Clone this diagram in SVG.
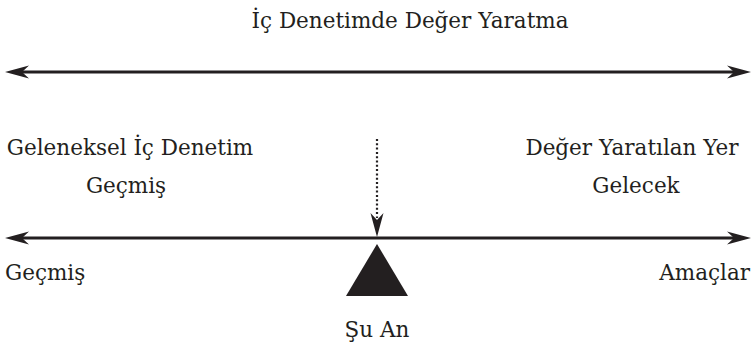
<svg xmlns="http://www.w3.org/2000/svg" width="756" height="350" viewBox="0 0 756 350">
<style>
  .t { font-family: 'DejaVu Serif', serif; font-size: 21.5px; fill: #231f20; }
  .axis { stroke: #231f20; stroke-width: 3; fill: none; }
  .dot { stroke: #231f20; stroke-width: 2.2; stroke-dasharray: 2 2.3; fill: none; }
  .head { fill: #231f20; }
</style>
<defs>
  <path id="barb" d="M0,0 L-24,-6.5 L-17,0 L-24,6.5 Z"/>
</defs>
<rect width="756" height="350" fill="#ffffff"/>
<g id="title"><text class="t" x="410" y="28" text-anchor="middle">İç Denetimde Değer Yaratma</text></g>
<g id="connectors">
  <line class="axis" x1="20" y1="72" x2="736" y2="72"/>
  <use href="#barb" class="head" transform="translate(5,72) rotate(180)"/>
  <use href="#barb" class="head" transform="translate(751,72)"/>
  <line class="axis" x1="20" y1="238" x2="736" y2="238"/>
  <use href="#barb" class="head" transform="translate(5,238) rotate(180)"/>
  <use href="#barb" class="head" transform="translate(751,238)"/>
  <line class="dot" x1="377" y1="139" x2="377" y2="218"/>
  <use href="#barb" class="head" transform="translate(377,237) rotate(90)"/>
</g>
<g id="left-top">
  <text class="t" x="130" y="155" text-anchor="middle">Geleneksel İç Denetim</text>
  <text class="t" x="126" y="193" text-anchor="middle">Geçmiş</text>
</g>
<g id="right-top">
  <text class="t" x="632" y="155" text-anchor="middle">Değer Yaratılan Yer</text>
  <text class="t" x="636" y="193" text-anchor="middle">Gelecek</text>
</g>
<g id="fulcrum">
  <polygon points="377,244 408,296 346,296" fill="#231f20"/>
  <text class="t" x="377" y="337" text-anchor="middle">Şu An</text>
</g>
<g id="left-end"><text class="t" x="5" y="280">Geçmiş</text></g>
<g id="right-end"><text class="t" x="750" y="280" text-anchor="end">Amaçlar</text></g>
</svg>
